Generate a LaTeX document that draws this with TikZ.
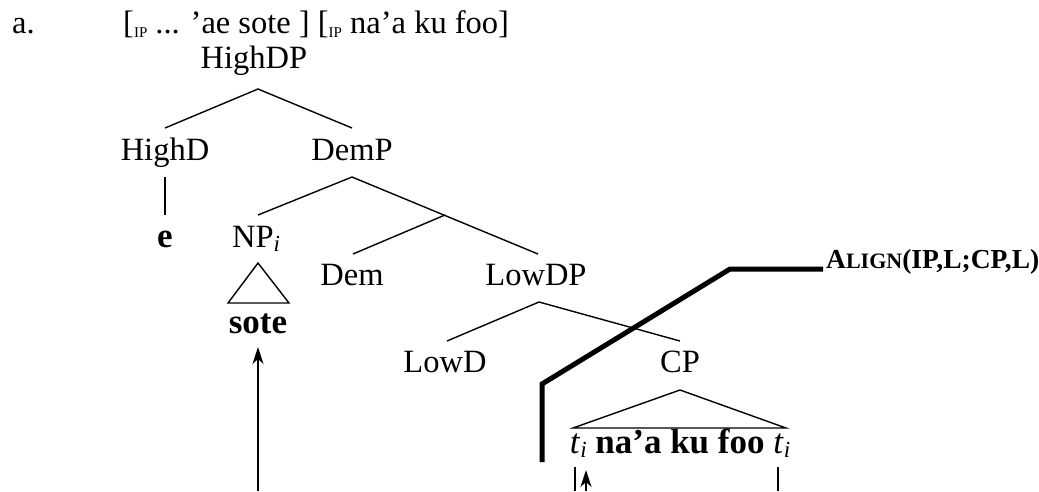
\documentclass[tikz,border=0pt]{standalone}
\usepackage{fontspec}
\setmainfont{Liberation Serif}
\usetikzlibrary{arrows.meta}
\newcommand{\ipsub}{\raisebox{-0.3ex}{\fontsize{15}{15}\selectfont IP}}
\newcommand{\trace}{{\mdseries\textit{t}\raisebox{-0.3ex}{\fontsize{23}{23}\selectfont\textit{i}}}}
\begin{document}
\begin{tikzpicture}[x=1pt,y=-1pt,
  lbl/.style={inner sep=0pt,anchor=base,font=\fontsize{32.5}{38}\selectfont},
  bld/.style={inner sep=0pt,anchor=base,font=\fontsize{35}{40}\selectfont\bfseries},
  branch/.style={line width=1.4pt},
  heavy/.style={line width=5pt},
  mv/.style={line width=1.4pt,-{Stealth[length=17pt,width=11pt,inset=5pt]}}]
\useasboundingbox (0,0) rectangle (1039,491);

% example heading
\node[lbl,anchor=base west] (ex) at (12,33) {a.};
\node[lbl,anchor=base west] (head) at (123,33) {[\ipsub{} ... ’ae sote ] [\ipsub{} na’a ku foo]};

% tree labels
\node[lbl] (hdp) at (254,68) {HighDP};
\node[lbl] (hd) at (165,160) {HighD};
\node[lbl] (demp) at (352,160) {DemP};
\node[bld] (e) at (165,247) {e};
\node[lbl,anchor=base west] (np) at (232,247) {NP\raisebox{-0.3ex}{\fontsize{23}{23}\selectfont\textit{i}}};
\node[bld] (sote) at (258,333) {sote};
\node[lbl] (dem) at (352,285) {Dem};
\node[lbl] (ldp) at (536,285) {LowDP};
\node[lbl] (ld) at (445,372) {LowD};
\node[lbl] (cp) at (680,372) {CP};
\node[bld] (cpstr) at (680,453) {\trace{} na’a ku foo \trace};
\node[inner sep=0pt,anchor=base west,font=\fontsize{27.5}{32}\selectfont\bfseries] (align) at (826,268)
  {A{\fontsize{22}{26}\selectfont LIGN}(IP,L;CP,L)};

% branch points
\coordinate (hdp-b) at (258,89);
\coordinate (hd-t) at (165,128);
\coordinate (demp-t) at (352,128);
\coordinate (hd-b) at (165,177);
\coordinate (e-t) at (165,215);
\coordinate (demp-b) at (352,177);
\coordinate (np-t) at (258,215);
\coordinate (dbar) at (445,215);
\coordinate (dem-t) at (353,254);
\coordinate (ldp-t) at (538,254);
\coordinate (ldp-b) at (539,302);
\coordinate (ld-t) at (447,341);
\coordinate (cp-t) at (680,341);

\draw[branch] (hd-t) -- (hdp-b) -- (demp-t);
\draw[branch] (hd-b) -- (e-t);
\draw[branch] (np-t) -- (demp-b) -- (ldp-t);
\draw[branch] (dbar) -- (dem-t);
\draw[branch] (ld-t) -- (ldp-b) -- (cp-t);

% roof triangles
\coordinate (np-apex) at (258,263);
\coordinate (np-l) at (228,303);
\coordinate (np-r) at (289,303);
\draw[branch,line join=miter] (np-apex) -- (np-l) -- (np-r) -- cycle;
\coordinate (cp-apex) at (680,390);
\coordinate (cp-l) at (573,428);
\coordinate (cp-r) at (786,428);
\draw[branch,line join=miter] (cp-apex) -- (cp-l) -- (cp-r) -- cycle;

% movement lines
\coordinate (sote-tail) at (258,491);
\coordinate (sote-tip) at (258,347);
\draw[mv] (sote-tail) -- (sote-tip);
\coordinate (t1-a) at (575,467);
\coordinate (t1-b) at (575,491);
\draw[branch] (t1-a) -- (t1-b);
\coordinate (t1-tail) at (586,491);
\coordinate (t1-tip) at (586,470);
\draw[mv] (t1-tail) -- (t1-tip);
\coordinate (t2-a) at (778,467);
\coordinate (t2-b) at (778,491);
\draw[branch] (t2-a) -- (t2-b);

% alignment boundary
\coordinate (al-1) at (542,462);
\coordinate (al-2) at (542,384);
\coordinate (al-3) at (730,269);
\coordinate (al-4) at (823,269);
\draw[heavy,line join=miter] (al-1) -- (al-2) -- (al-3) -- (al-4);
\end{tikzpicture}
\end{document}
